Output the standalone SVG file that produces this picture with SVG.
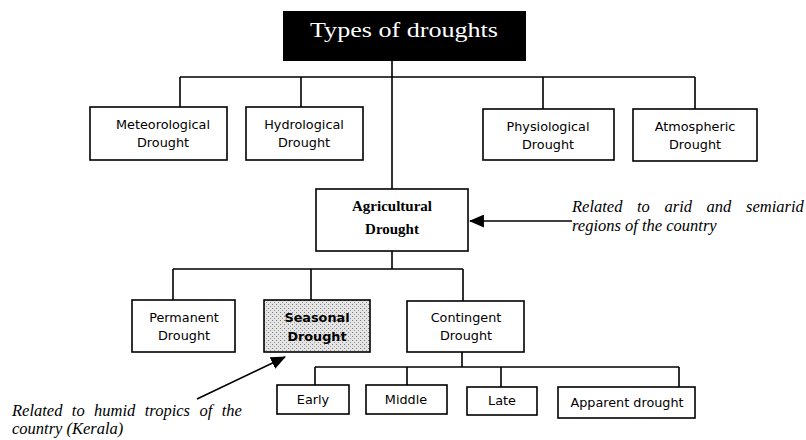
<svg xmlns="http://www.w3.org/2000/svg" width="806" height="440" viewBox="0 0 806 440">
<style>
.box{fill:#fff;stroke:#000;stroke-width:1.6}
.t{font-family:"DejaVu Sans","Verdana",sans-serif;font-size:12.8px;fill:#000;text-anchor:middle}
.ln{fill:none;stroke:#000;stroke-width:1.6}
.note{font-family:"Liberation Serif","Times New Roman",serif;font-style:italic;font-size:16.5px;fill:#000}
</style>
<defs>
<pattern id="stip" width="4" height="4" patternUnits="userSpaceOnUse">
<rect width="4" height="4" fill="#e4e4e4"/>
<rect x="0" y="0" width="1" height="1" fill="#777"/>
<rect x="2" y="2" width="1" height="1" fill="#999"/>
</pattern>
<marker id="ah2" viewBox="0 0 14 12" refX="13" refY="6" markerWidth="15" markerHeight="13" markerUnits="userSpaceOnUse" orient="auto">
<path d="M0,0 L14,6 L0,12 z" fill="#000"/>
</marker>
</defs>
<g id="connectors">
<path class="ln" d="M392,61 V189 M180,77 H695 M180,77 V107 M301,77 V107 M543,77 V109 M695,77 V109"/>
<path class="ln" d="M392,251 V269 M173,269 H463 M173,269 V300 M311,269 V300 M463,269 V301"/>
<path class="ln" d="M462,352 V367 M315,367 H679 M315,367 V385 M407,367 V385 M501,367 V387 M679,367 V387"/>
<line class="ln" x1="572" y1="221" x2="470" y2="221" marker-end="url(#ah2)"/>
<line class="ln" x1="197" y1="399" x2="285" y2="357" marker-end="url(#ah2)"/>
</g>
<g id="types">
<rect x="283" y="11" width="243" height="50" fill="#000"/>
<text x="404" y="37" font-family="Liberation Serif,serif" font-size="21" fill="#fff" text-anchor="middle" textLength="188" lengthAdjust="spacingAndGlyphs">Types of droughts</text>
</g>
<g id="meteorological">
<rect class="box" x="90" y="107" width="137" height="53"/>
<text class="t" x="163" y="129">Meteorological</text>
<text class="t" x="163" y="147">Drought</text>
</g>
<g id="hydrological">
<rect class="box" x="246" y="107" width="117" height="53"/>
<text class="t" x="304" y="129">Hydrological</text>
<text class="t" x="304" y="147">Drought</text>
</g>
<g id="physiological">
<rect class="box" x="483" y="109" width="131" height="51"/>
<text class="t" x="548" y="131">Physiological</text>
<text class="t" x="548" y="149">Drought</text>
</g>
<g id="atmospheric">
<rect class="box" x="633" y="109" width="124" height="52"/>
<text class="t" x="695" y="131">Atmospheric</text>
<text class="t" x="695" y="149">Drought</text>
</g>
<g id="agricultural">
<rect class="box" x="316" y="189" width="152" height="62"/>
<text x="392" y="211" font-family="Liberation Serif,serif" font-weight="bold" font-size="15" text-anchor="middle">Agricultural</text>
<text x="392" y="234" font-family="Liberation Serif,serif" font-weight="bold" font-size="15" text-anchor="middle">Drought</text>
</g>
<g id="note-arid">
<text class="note" x="572" y="212" word-spacing="10.5">Related to arid and semiarid</text>
<text class="note" x="572" y="231">regions of the country</text>
</g>
<g id="permanent">
<rect class="box" x="132" y="300" width="103" height="52"/>
<text class="t" x="184" y="322">Permanent</text>
<text class="t" x="184" y="340">Drought</text>
</g>
<g id="seasonal">
<rect x="264" y="300" width="106" height="52" fill="url(#stip)" stroke="#000" stroke-width="1.6"/>
<text class="t" x="317" y="322" font-weight="bold" font-size="13.5">Seasonal</text>
<text class="t" x="317" y="341" font-weight="bold" font-size="13.5">Drought</text>
</g>
<g id="contingent">
<rect class="box" x="407" y="301" width="117" height="51"/>
<text class="t" x="466" y="322">Contingent</text>
<text class="t" x="466" y="340">Drought</text>
</g>
<g id="early">
<rect class="box" x="277" y="385" width="72" height="29"/>
<text class="t" x="313" y="404">Early</text>
</g>
<g id="middle">
<rect class="box" x="366" y="385" width="81" height="29"/>
<text class="t" x="406" y="404">Middle</text>
</g>
<g id="late">
<rect class="box" x="467" y="387" width="70" height="28"/>
<text class="t" x="502" y="405">Late</text>
</g>
<g id="apparent">
<rect class="box" x="558" y="387" width="137" height="31"/>
<text class="t" x="627" y="407">Apparent drought</text>
</g>
<g id="note-humid">
<text class="note" x="12" y="416" word-spacing="5.3">Related to humid tropics of the</text>
<text class="note" x="12" y="434">country (Kerala)</text>
</g>
</svg>
